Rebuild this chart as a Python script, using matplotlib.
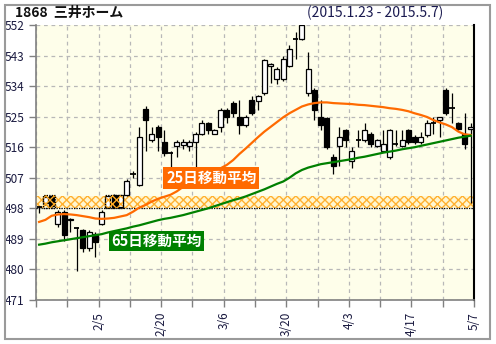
import matplotlib
matplotlib.use('Agg')
import matplotlib.pyplot as plt
from matplotlib.patches import Rectangle

plt.rcParams['font.family'] = ['Noto Sans CJK JP', 'DejaVu Sans']

# daily candles 2015/1/23 - 2015/5/7
opens = [498.3, 499.5, 501.5, 493.4, 497.0, 494.5, 492.3, 491.7, 486.4, 490.5,
         493.5, 498.5, 501.8, 498.3, 502.0, 508.0, 505.0, 527.3, 518.0, 522.0,
         517.5, 514.2, 516.5, 516.8, 516.5, 517.5, 520.0, 523.0, 520.0, 522.0,
         527.0, 529.0, 525.0, 522.5, 530.0, 529.5, 532.0, 540.0, 536.0, 536.0,
         540.0, 548.0, 548.0, 532.0, 533.0, 525.0, 524.5, 513.0, 516.5, 521.0,
         512.0, 518.0, 518.0, 520.0, 516.5, 515.0, 513.0, 517.0, 516.5, 521.0,
         519.0, 517.5, 519.5, 523.0, 524.0, 533.0, 527.5, 523.0, 520.0, 521.5]
highs = [498.8, 502.0, 502.0, 497.5, 497.5, 495.3, 492.5, 492.0, 491.5, 491.0,
         497.5, 502.0, 502.2, 502.0, 506.5, 509.0, 522.0, 528.0, 522.0, 522.5,
         521.0, 515.0, 518.0, 518.5, 518.0, 520.5, 524.0, 523.5, 521.5, 527.5,
         527.5, 529.5, 530.0, 525.5, 531.0, 531.5, 542.0, 540.8, 539.5, 543.0,
         546.0, 550.0, 552.0, 544.0, 533.5, 530.0, 525.0, 514.0, 522.0, 521.5,
         516.0, 521.0, 523.0, 520.5, 518.5, 521.0, 521.5, 521.0, 521.0, 521.5,
         519.5, 520.5, 524.0, 525.0, 525.0, 533.5, 532.0, 523.5, 526.0, 523.0]
lows = [496.7, 499.0, 498.5, 492.5, 488.5, 491.0, 479.4, 485.0, 485.5, 483.6,
        493.0, 498.0, 498.2, 498.0, 501.5, 507.0, 504.5, 515.0, 517.5, 515.0,
        513.5, 510.0, 513.0, 515.5, 515.0, 510.0, 519.5, 520.0, 519.8, 520.5,
        523.0, 525.0, 520.0, 522.0, 525.5, 527.0, 531.5, 535.0, 534.5, 535.5,
        539.5, 542.0, 547.5, 531.0, 524.0, 521.0, 515.5, 508.0, 510.5, 516.0,
        510.0, 516.0, 517.5, 516.0, 516.0, 514.5, 512.5, 516.5, 516.0, 517.0,
        517.0, 517.0, 519.0, 520.0, 519.0, 525.5, 523.0, 521.0, 515.5, 499.6]
closes = [498.3, 501.2, 498.8, 497.0, 490.0, 495.0, 492.3, 486.4, 491.0, 488.0,
          497.0, 501.5, 498.5, 501.8, 506.0, 508.2, 519.0, 524.0, 520.0, 519.0,
          514.3, 514.4, 517.5, 517.6, 517.5, 520.0, 523.0, 521.0, 521.0, 527.0,
          525.0, 526.0, 522.5, 525.0, 526.0, 531.0, 541.7, 540.5, 539.0, 542.0,
          545.0, 548.0, 552.0, 539.0, 527.0, 522.5, 516.0, 510.4, 519.0, 518.0,
          515.0, 518.0, 521.0, 517.0, 518.0, 517.0, 521.0, 517.0, 518.0, 517.5,
          517.5, 519.0, 523.0, 523.0, 524.8, 526.0, 527.5, 521.5, 517.0, 522.0]

ma25 = [494.0, 494.6, 495.8, 496.2, 496.3, 496.2, 496.0, 495.7, 495.4, 495.0,
        494.9, 495.0, 495.2, 495.6, 496.0, 497.0, 498.2, 499.0, 500.0, 500.8,
        501.4, 502.0, 503.0, 504.3, 505.3, 506.2, 507.0, 508.0, 509.0, 509.8,
        510.8, 512.2, 514.0, 515.6, 517.3, 519.0, 520.6, 522.0, 523.4, 524.8,
        526.0, 527.0, 528.0, 528.6, 529.0, 529.2, 529.2, 529.0, 528.9, 528.8,
        528.7, 528.5, 528.4, 528.2, 528.0, 527.8, 527.5, 527.3, 527.0, 526.6,
        526.0, 525.5, 524.9, 524.0, 523.3, 522.7, 521.9, 520.6, 519.8, 519.6]
ma65 = [487.3, 487.6, 488.0, 488.3, 488.6, 488.9, 489.2, 489.5, 489.8, 490.1,
        490.4, 490.9, 491.3, 491.7, 492.1, 492.6, 493.0, 493.5, 494.0, 494.5,
        494.9, 495.2, 495.6, 496.0, 496.5, 497.0, 497.5, 498.0, 498.6, 499.2,
        499.8, 500.4, 500.9, 501.5, 502.2, 502.9, 503.6, 504.4, 505.2, 505.9,
        507.0, 508.3, 509.3, 510.0, 510.5, 511.0, 511.3, 511.6, 511.9, 512.2,
        512.5, 512.9, 513.2, 513.6, 514.0, 514.4, 514.7, 515.0, 515.4, 515.7,
        516.0, 516.4, 516.8, 517.2, 517.6, 518.0, 518.4, 518.8, 519.1, 519.4]

tick_labels = ['', '', '2/5', '', '2/20', '', '3/6', '', '3/20', '', '4/3', '', '4/17', '', '5/7']
yticks = [471, 480, 489, 498, 507, 516, 525, 534, 543, 552]
window = (498.0, 501.6)

fig = plt.figure(figsize=(4.96, 3.44), dpi=100)
fig.patches.append(Rectangle((5/496, 5/344), 485/496, 334/344, transform=fig.transFigure,
                             fill=False, ec='#9a9a9a', lw=1.5))
ax = fig.add_axes([36/496, 44/344, 438/496, 275/344])
ax.set_facecolor('#fefeea')

n = len(opens)
ax.set_xlim(-0.5, n - 0.5)
ax.set_ylim(471, 552)

# window band
ax.axhspan(window[0], window[1], facecolor='#fff6d0', hatch='xxxx', edgecolor='#ffb030', lw=0, zorder=1)
ax.axhline(window[0], color='black', ls=(0, (1, 1)), lw=0.9, zorder=4)

for i in range(n):
    o, h, l, c = opens[i], highs[i], lows[i], closes[i]
    ax.vlines(i, l, h, color='black', lw=0.9, zorder=3)
    if abs(c - o) < 0.3:
        ax.hlines(o, i - 0.42, i + 0.42, color='black', lw=1.3, zorder=3)
    else:
        fc = 'white' if c > o else 'black'
        ax.add_patch(Rectangle((i - 0.4, min(o, c)), 0.8, abs(c - o), fc=fc, ec='black', lw=0.9, zorder=3))

# dotted boxes where price traded inside the window
for x0, w in [(0.6, 2.0), (10.55, 2.9)]:
    ax.add_patch(Rectangle((x0, window[0]), w, window[1] - window[0] + 0.3, fill=False,
                           ec='black', ls=(0, (1, 1)), lw=0.9, zorder=4))
    ax.add_patch(Rectangle((x0, window[0]), w, window[1] - window[0] + 0.3, fill=False,
                           hatch='xxxx', ec='#ffaa22', lw=0, zorder=3.5))

days = list(range(n))
ax.plot(days, ma25, color='#ff6a00', lw=1.6, zorder=5)
ax.plot(days, ma65, color='#008000', lw=1.6, zorder=5)

ax.text(27.5, 506.9, '25日移動平均', color='white', fontsize=10.5, fontweight='bold',
        ha='center', va='center', zorder=6,
        bbox=dict(boxstyle='square,pad=0.2', fc='#ff6a00', ec='none'))
ax.text(18.8, 488.4, '65日移動平均', color='white', fontsize=10.5, fontweight='bold',
        ha='center', va='center', zorder=6,
        bbox=dict(boxstyle='square,pad=0.15', fc='#008000', ec='none'))

xt = [k * 5 - 0.5 for k in range(len(tick_labels))]
ax.set_xticks(xt)
ax.set_xticklabels(tick_labels, rotation=90, fontsize=8.5, color='#1a1a40')
ax.set_yticks(yticks)
ax.set_yticklabels([str(v) for v in yticks], fontsize=8.5, color='#1a1a40')
ax.tick_params(axis='both', color='#808080', length=5, width=1)
ax.grid(True, color='#b8b8b8', ls=(0, (3, 3)), lw=0.9)
ax.set_axisbelow(True)

for s in ['left', 'bottom']:
    ax.spines[s].set_color('#808080')
    ax.spines[s].set_linewidth(1.2)
ax.spines['top'].set_visible(False)
ax.spines['right'].set_color('black')
ax.spines['right'].set_linewidth(1.5)

fig.text(15/496, 1 - 12.5/344, '1868  三井ホーム', fontsize=10, fontweight='bold', va='center', color='#111111')
fig.text(375/496, 1 - 13/344, '(2015.1.23 - 2015.5.7)', fontsize=10, va='center', ha='center', color='#1a1a50')

fig.savefig('out.png', dpi=100)
